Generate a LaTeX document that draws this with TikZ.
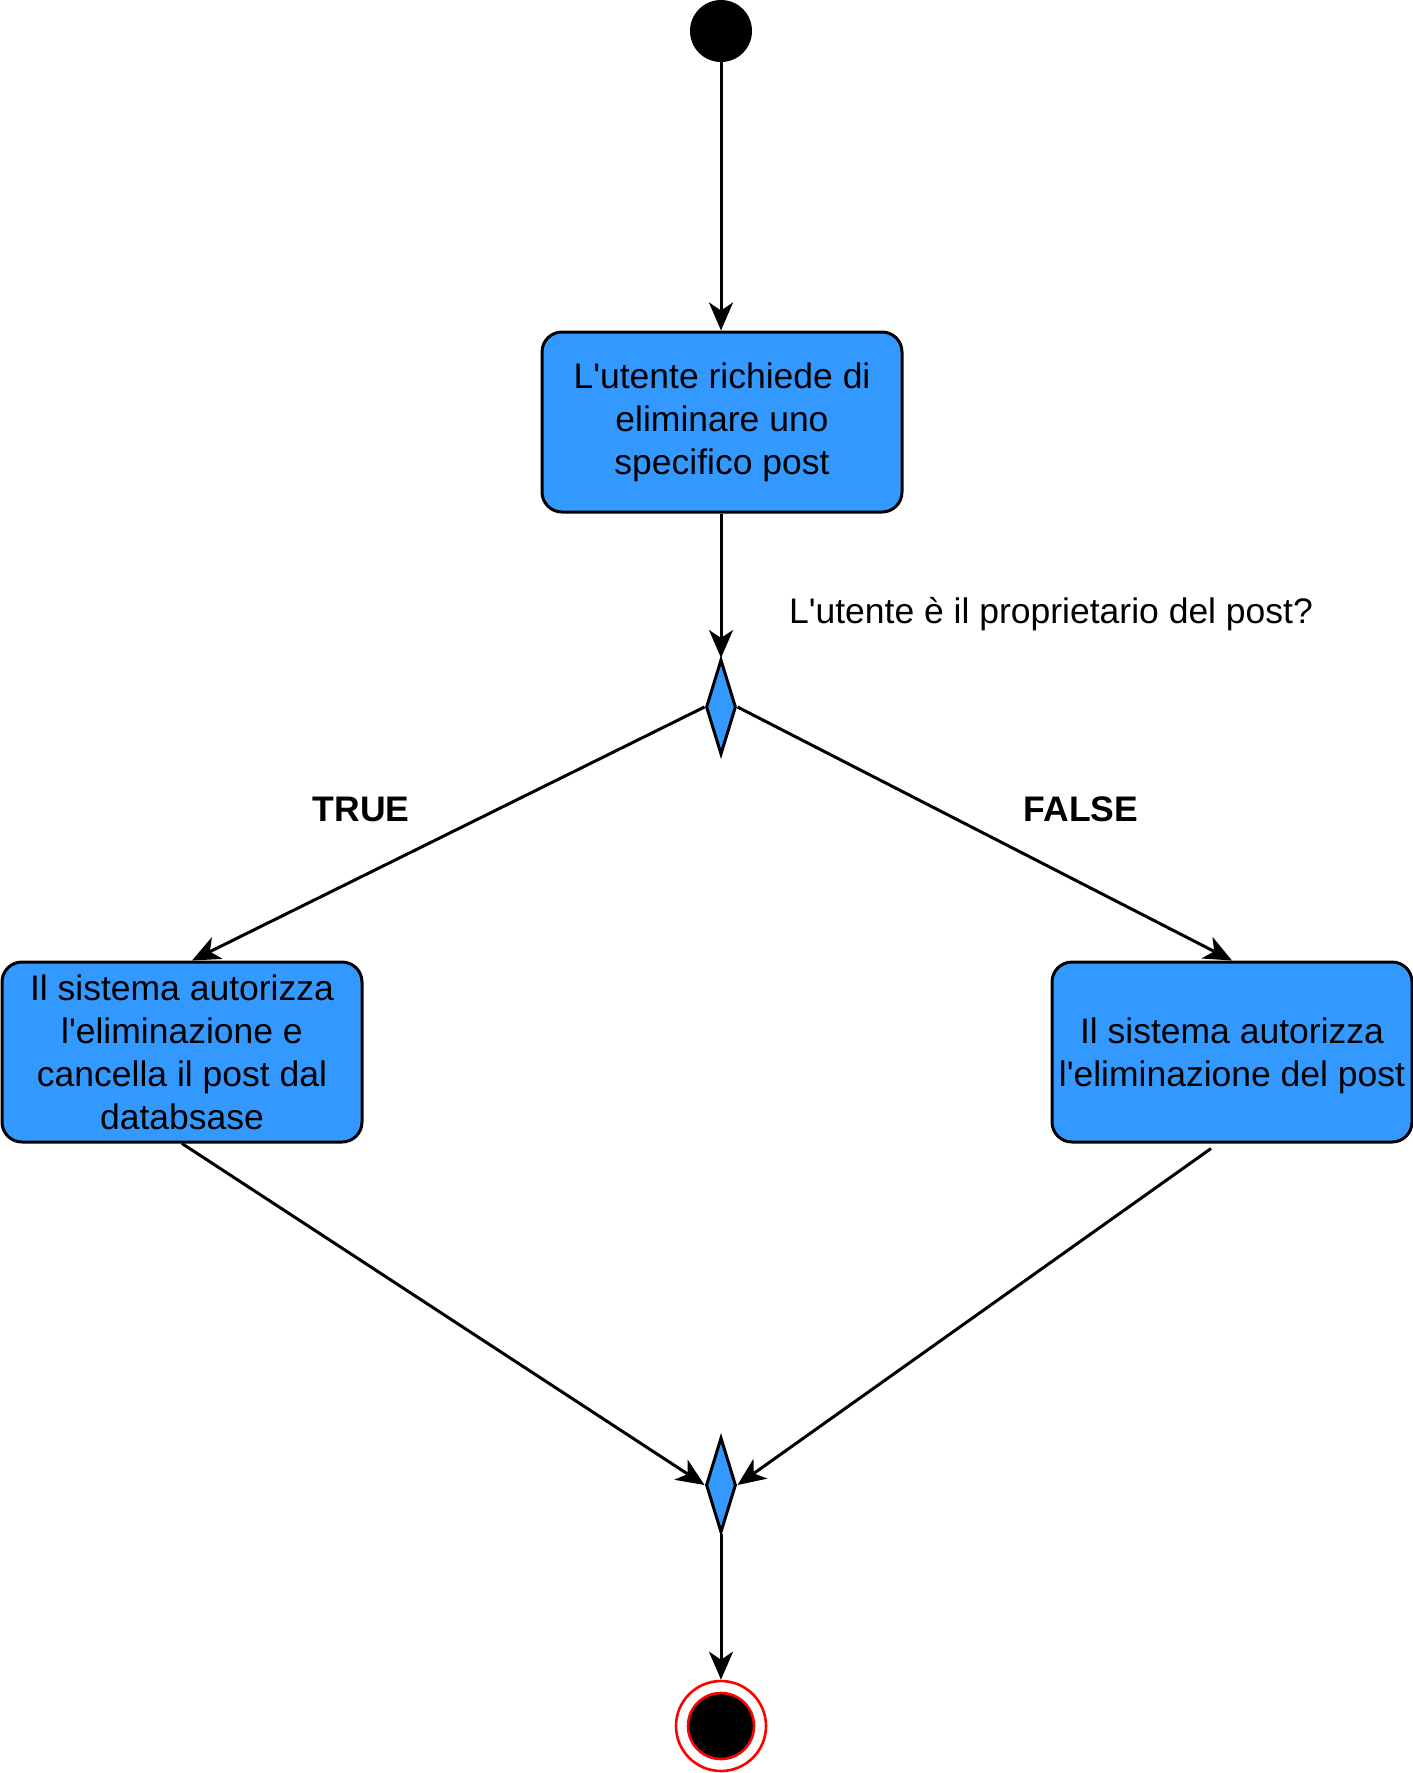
\documentclass[tikz,border=0pt]{standalone}
\usepackage{fontspec}
\setmainfont{Liberation Sans}
\usetikzlibrary{shapes.geometric,arrows.meta}
\definecolor{boxblue}{RGB}{51,153,255}
\newcommand{\apos}{\textquotesingle}
\begin{document}
\begin{tikzpicture}[x=1pt,y=-1pt,
  every node/.style={font=\fontsize{35.5}{43}\selectfont},
  actbox/.style={draw,line width=3pt,fill=boxblue,rounded corners=20pt,minimum width=360pt,minimum height=180pt,align=center,inner sep=0pt},
  decbox/.style={diamond,draw,line width=3pt,fill=boxblue,minimum width=30pt,minimum height=95pt,inner sep=0pt},
  conn/.style={line width=3pt,-{Stealth[length=28pt,width=24pt,inset=8pt]}},
  lbl/.style={font=\bfseries\fontsize{35.5}{43}\selectfont}]
\useasboundingbox (0,0) rectangle (1413,1773);
\node[circle,fill=black,minimum size=62pt,inner sep=0pt] (start) at (721,31) {};
\node[actbox] (req) at (722,422) {L\apos utente richiede di\\eliminare uno\\specifico post};
\node[decbox] (d1) at (721,707) {};
\node (q) at (1051,614) {L\apos utente è il proprietario del post?};
\node[lbl] (tl) at (361,809) {TRUE};
\node[lbl] (fl) at (1081,809) {FALSE};
\node[actbox] (lbox) at (182,1052) {Il sistema autorizza\\l\apos eliminazione e\\cancella il post dal\\databsase};
\node[actbox] (rbox) at (1232,1052) {\\[-10pt]Il sistema autorizza\\l\apos eliminazione del post};
\node[decbox] (m) at (721,1485) {};
\node[circle,draw=red,line width=2.6pt,minimum size=90pt,inner sep=0pt] (endring) at (721,1726) {};
\node[circle,draw=red,fill=black,line width=2.6pt,minimum size=66pt,inner sep=0pt] (endcore) at (721,1726) {};
\draw[conn] (start) -- (start |- req.north);
\draw[conn] (req.south -| d1) -- (d1.north);
\draw[conn] (d1.west) -- ([xshift=10pt]lbox.north);
\draw[conn] (d1.east) -- (rbox.north);
\draw[conn] (lbox.south) -- (m.west);
\draw[conn] ([xshift=-21pt,yshift=-5pt]rbox.south) -- (m.east);
\draw[conn] (m.south) -- (endring.north);
\end{tikzpicture}
\end{document}
